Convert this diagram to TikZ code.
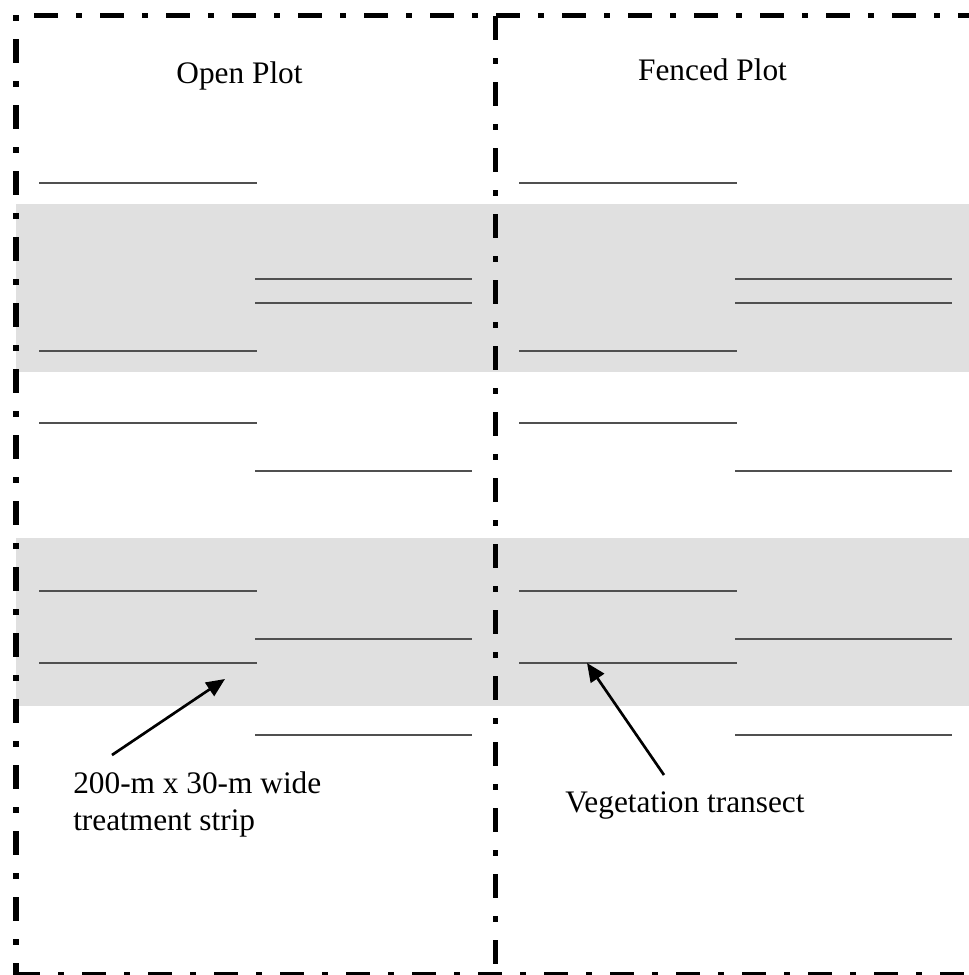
\documentclass[tikz,border=0pt]{standalone}
\usepackage{fontspec}
\setmainfont{Liberation Serif}
\usetikzlibrary{arrows.meta}
\definecolor{stripgray}{RGB}{224,224,224}
\definecolor{transectgray}{RGB}{80,80,80}
\begin{document}
\begin{tikzpicture}[x=0.75pt,y=-0.75pt,
  plotline/.style={line width=4.1pt, dash pattern=on 18pt off 13.5pt on 4.5pt off 13.5pt},
  transect/.style={line width=0.9pt, draw=transectgray},
  lbl/.style={font=\fontsize{23.5}{27.75}\selectfont, inner sep=0pt},
  pointer/.style={line width=2pt, -{Triangle[length=14pt,width=12pt]}}]
\useasboundingbox (0,0) rectangle (969,975);
% treatment strips
\fill[stripgray] (16,204) rectangle (969,372);
\fill[stripgray] (16,538) rectangle (969,706);
% transects, left (open) plot and right (fenced) plot
\foreach \dx in {0,480}{
  \foreach \y in {183,351,423,591,663}{
    \draw[transect] (39+\dx,\y) -- (257+\dx,\y);
  }
  \foreach \y in {279,303,471,639,735}{
    \draw[transect] (255+\dx,\y) -- (472+\dx,\y);
  }
}
% plot boundaries
\draw[plotline] (34,15.5) -- (975,15.5);
\draw[plotline, dash phase=30pt] (15.8,13) -- (15.8,990);
\draw[plotline, dash phase=47.25pt] (495.7,13) -- (495.7,990);
\draw[plotline] (16,974.5) -- (975,974.5);
% labels
\node[lbl, anchor=base] (open) at (239.5,83) {Open Plot};
\node[lbl, anchor=base] (fenced) at (712.5,80) {Fenced Plot};
\node[lbl, anchor=base west, align=left] (strip) at (73,830) {200-m x 30-m wide\\treatment strip};
\node[lbl, anchor=base west] (veg) at (565,812) {Vegetation transect};
% pointers
\coordinate (striptail) at (112,755);
\coordinate (striptip) at (225,679);
\coordinate (vegtail) at (664,775);
\coordinate (vegtip) at (587,663);
\draw[pointer] (striptail) -- (striptip);
\draw[pointer] (vegtail) -- (vegtip);
\end{tikzpicture}
\end{document}
